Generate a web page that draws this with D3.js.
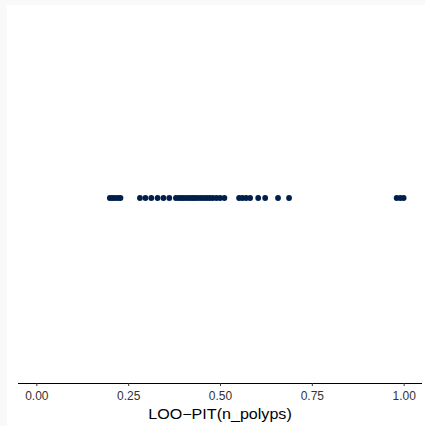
<!DOCTYPE html>
<html>
<head>
<meta charset="utf-8">
<script src="https://cdn.jsdelivr.net/npm/d3@7"></script>
<style>
  html, body { margin: 0; padding: 0; background: #f9f9f9; }
  svg { display: block; }
</style>
</head>
<body>
<script>
// LOO-PIT values for n_polyps, one point per observation
const pitValues = [
  0.200, 0.207, 0.214, 0.222, 0.229,
  0.282, 0.297, 0.313, 0.330, 0.346, 0.362,
  0.380, 0.388, 0.395, 0.402, 0.410, 0.418, 0.425, 0.432, 0.440,
  0.448, 0.456, 0.464, 0.472, 0.480, 0.490, 0.500, 0.512,
  0.552, 0.561, 0.571, 0.582,
  0.604, 0.623,
  0.658, 0.688,
  0.981, 0.991, 1.000
];
const xTicks = [0, 0.25, 0.5, 0.75, 1];
const xTickLabels = ["0.00", "0.25", "0.50", "0.75", "1.00"];
const xTitle = "LOO\u2212PIT(n_polyps)";

const W = 425, H = 426;
const panel = { left: 18, right: 422, top: 13, bottom: 383 };
const fontFamily = "'Liberation Sans', Arial, sans-serif";

const svg = d3.select("body").append("svg")
  .attr("width", W).attr("height", H);

// white plotting background inset from the page edge
svg.append("rect")
  .attr("x", 7).attr("y", 5)
  .attr("width", W - 7).attr("height", H - 5)
  .attr("fill", "#ffffff");

// x scale on [0,1] with 5% padding each side
const pad = 0.05;
const x = d3.scaleLinear()
  .domain([0 - pad, 1 + pad])
  .range([panel.left, panel.right]);

const y = d3.scaleLinear()
  .domain([-1, 1])
  .range([panel.bottom, panel.top]);

// points
svg.append("g")
  .selectAll("circle")
  .data(pitValues)
  .join("circle")
  .attr("cx", d => x(d))
  .attr("cy", y(0))
  .attr("r", 2.9)
  .attr("fill", "#011f4b");

// x axis
const axis = d3.axisBottom(x)
  .tickValues(xTicks)
  .tickFormat((d, i) => xTickLabels[i])
  .tickSize(3)
  .tickSizeOuter(0);

const gx = svg.append("g")
  .attr("transform", `translate(0,${panel.bottom})`)
  .attr("font-size", 12)
  .attr("font-family", fontFamily)
  .call(axis);

gx.attr("font-size", 12).attr("font-family", fontFamily);

gx.select(".domain")
  .attr("d", `M${panel.left},0.5H${panel.right}`)
  .attr("stroke", "#000")
  .attr("stroke-width", 1);
gx.selectAll(".tick line").attr("stroke", "#333").attr("stroke-width", 1);
gx.selectAll(".tick text")
  .attr("y", 0).attr("dy", null)
  .attr("transform", "translate(0,16.5)")
  .attr("fill", "#333")
  .style("font-size", "12px");

// axis title
svg.append("text")
  .attr("transform", `translate(${(panel.left + panel.right) / 2},418.5) scale(1.15,1)`)
  .attr("text-anchor", "middle")
  .attr("fill", "#000")
  .style("font-family", fontFamily)
  .style("font-size", "14px")
  .text(xTitle);
</script>
</body>
</html>
